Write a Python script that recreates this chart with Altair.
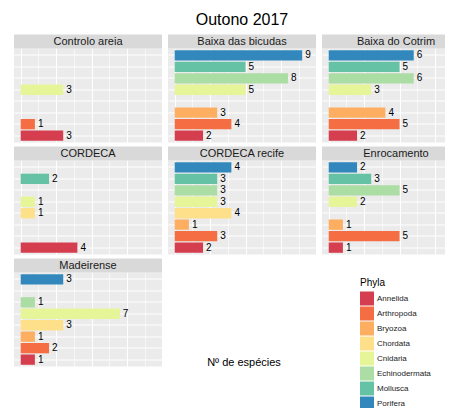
import altair as alt
import pandas as pd

phyla = ["Annelida", "Arthropoda", "Bryozoa", "Chordata", "Cnidaria",
         "Echinodermata", "Mollusca", "Porifera"]
colors = ["#D53E4F", "#F46D43", "#FDAE61", "#FEE08B", "#E6F598",
          "#ABDDA4", "#66C2A5", "#3288BD"]
sites = ["Controlo areia", "Baixa das bicudas", "Baixa do Cotrim", "CORDECA",
         "CORDECA recife", "Enrocamento", "Madeirense"]

# counts per site, in the order of `phyla` (None = absent)
controlo_areia = [3, 1, None, None, 3, None, None, None]
baixa_bicudas = [2, 4, 3, None, 5, 8, 5, 9]
baixa_cotrim = [2, 5, 4, None, 3, 6, 5, 6]
cordeca = [4, None, None, 1, 1, None, 2, None]
cordeca_recife = [2, 3, 1, 4, 3, 3, 3, 4]
enrocamento = [1, 5, 1, None, 2, 5, 3, 2]
madeirense = [1, 2, 1, 3, 7, 1, None, 3]

site_counts = [controlo_areia, baixa_bicudas, baixa_cotrim, cordeca,
               cordeca_recife, enrocamento, madeirense]

title_text = "Outono 2017"
x_title = "Nº de espécies"
legend_title = "Phyla"

grid_vals = [0, 1.25, 2.5, 3.75, 5, 6.25, 7.5, 8.75]

W, H = 148, 94
STRIP = 14
FONT = "Liberation Sans"

xscale = alt.Scale(domain=[-0.475, 9.975], nice=False, zero=False)
yscale = alt.Scale(domain=phyla[::-1], paddingInner=0.1, paddingOuter=0.15)
cscale = alt.Scale(domain=phyla, range=colors)

xaxis = alt.Axis(values=grid_vals, labels=False, ticks=False, domain=False,
                 title=None, grid=True, gridColor="white", gridOpacity=1,
                 gridWidth={"condition": {"test": "datum.value % 2.5 === 0", "value": 1.1},
                            "value": 0.55})
yaxis = alt.Axis(labels=False, ticks=False, domain=False, title=None,
                 grid=True, gridColor="white", gridOpacity=1, gridWidth=1.1,
                 bandPosition=0.5)


def panel(site, vals, with_title=False):
    rows = [{"phylum": p, "n": v} for p, v in zip(phyla, vals) if v is not None]
    d = pd.DataFrame(rows)
    base = alt.Chart(d)
    x = alt.X("n:Q", scale=xscale, axis=xaxis)
    y = alt.Y("phylum:N", scale=yscale, axis=yaxis, sort=phyla[::-1])
    bars = base.mark_bar().encode(
        x=x, y=y,
        color=alt.Color("phylum:N", scale=cscale, legend=None),
    )
    labels = base.mark_text(align="left", baseline="middle", dx=3, fontSize=10,
                            font=FONT, color="black").encode(x=x, y=y, text="n:Q")
    sd = pd.DataFrame({"s": [site]})
    strip = alt.Chart(sd).mark_rect(color="#D9D9D9").encode(
        x=alt.value(0), x2=alt.value(W), y=alt.value(-STRIP), y2=alt.value(0))
    strip_text = alt.Chart(sd).mark_text(fontSize=11, font=FONT, color="#1A1A1A",
                                         baseline="middle").encode(
        x=alt.value(W / 2), y=alt.value(-STRIP / 2 + 0.5), text="s:N")
    layers = [bars, labels, strip, strip_text]
    if with_title:
        t = alt.Chart(pd.DataFrame({"t": [title_text]})).mark_text(
            fontSize=16, font=FONT, color="black", baseline="middle").encode(
            x=alt.value(W / 2), y=alt.value(-28.5), text="t:N")
        layers.append(t)
    return alt.layer(*layers).properties(
        width=W, height=H,
        view=alt.ViewBackground(fill="#EBEBEB", stroke=None))


cells = [panel(s, v, with_title=(i == 1)) for i, (s, v) in enumerate(zip(sites, site_counts))]

text_cell = alt.Chart(pd.DataFrame({"t": [x_title]})).mark_text(
    fontSize=11, font=FONT, color="black", baseline="middle").encode(
    x=alt.value(76), y=alt.value(90.5), text="t:N").properties(
    width=W, height=H, view=alt.ViewBackground(fill=None, stroke=None))

legend_cell = alt.Chart(pd.DataFrame({"phylum": phyla})).mark_square(opacity=0).encode(
    color=alt.Color("phylum:N", scale=cscale,
                    legend=alt.Legend(orient="none", legendX=38, legendY=5,
                                      title=legend_title, titleFontSize=10,
                                      titleFontWeight="normal", titleColor="black",
                                      titleFont=FONT, labelFont=FONT,
                                      labelFontSize=8, labelColor="#1A1A1A",
                                      symbolType="square", symbolSize=196,
                                      symbolOpacity=1, symbolStrokeWidth=0,
                                      rowPadding=1, labelOffset=3,
                                      titlePadding=4, padding=0))
).properties(width=W, height=H, view=alt.ViewBackground(fill=None, stroke=None))

cells += [text_cell, legend_cell]

chart = alt.concat(*cells, columns=3, spacing={"row": 18, "column": 6},
                   bounds="flush").resolve_scale(
    color="independent", x="independent", y="independent"
).properties(
    padding={"left": 6, "top": 3.5, "right": -25, "bottom": -3}
).configure(font=FONT).configure_view(stroke=None)

chart.save("out.html", embed_options={"renderer": "svg", "actions": False})
